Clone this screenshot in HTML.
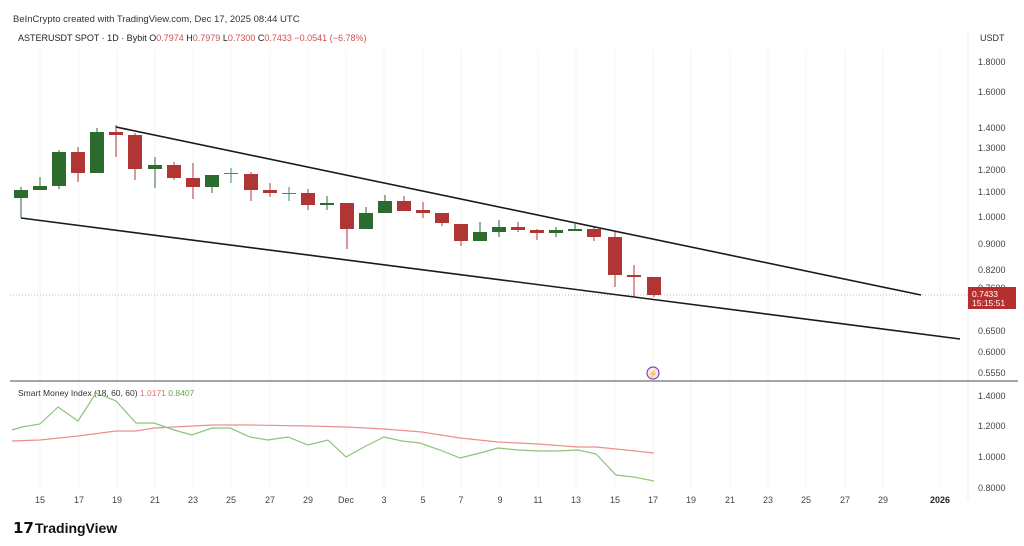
<!DOCTYPE html>
<html><head><meta charset="utf-8"><style>
body{margin:0;background:#fff;width:1024px;height:541px;overflow:hidden;font-family:"Liberation Sans",sans-serif}
</style></head><body>
<svg width="1024" height="541" xmlns="http://www.w3.org/2000/svg" font-family="Liberation Sans, sans-serif">
<rect width="1024" height="541" fill="#fff"/>
<text x="13" y="22" font-size="9.5" fill="#333">BeInCrypto created with TradingView.com, Dec 17, 2025 08:44 UTC</text>
<text x="18" y="41" font-size="9" fill="#222">ASTERUSDT SPOT · 1D · Bybit  <tspan fill="#222">O</tspan><tspan fill="#d05050">0.7974</tspan>  <tspan fill="#222">H</tspan><tspan fill="#d05050">0.7979</tspan>  <tspan fill="#222">L</tspan><tspan fill="#d05050">0.7300</tspan>  <tspan fill="#222">C</tspan><tspan fill="#d05050">0.7433  −0.0541 (−6.78%)</tspan></text>
<line x1="968" y1="30" x2="968" y2="500" stroke="#eee"/>
<g stroke="#f6f6f6" stroke-width="1">
<line x1="40" y1="50" x2="40" y2="490"/><line x1="79" y1="50" x2="79" y2="490"/><line x1="117" y1="50" x2="117" y2="490"/><line x1="155" y1="50" x2="155" y2="490"/><line x1="193" y1="50" x2="193" y2="490"/><line x1="231" y1="50" x2="231" y2="490"/><line x1="270" y1="50" x2="270" y2="490"/><line x1="308" y1="50" x2="308" y2="490"/><line x1="346" y1="50" x2="346" y2="490"/><line x1="384" y1="50" x2="384" y2="490"/><line x1="423" y1="50" x2="423" y2="490"/><line x1="461" y1="50" x2="461" y2="490"/><line x1="500" y1="50" x2="500" y2="490"/><line x1="538" y1="50" x2="538" y2="490"/><line x1="576" y1="50" x2="576" y2="490"/><line x1="615" y1="50" x2="615" y2="490"/><line x1="653" y1="50" x2="653" y2="490"/><line x1="691" y1="50" x2="691" y2="490"/><line x1="730" y1="50" x2="730" y2="490"/><line x1="768" y1="50" x2="768" y2="490"/><line x1="806" y1="50" x2="806" y2="490"/><line x1="845" y1="50" x2="845" y2="490"/><line x1="883" y1="50" x2="883" y2="490"/><line x1="940" y1="50" x2="940" y2="490"/>
</g>
<text x="980" y="41" font-size="9" fill="#333">USDT</text>
<g font-size="9" fill="#444">
<text x="978" y="65">1.8000</text><text x="978" y="95">1.6000</text><text x="978" y="131">1.4000</text><text x="978" y="151">1.3000</text><text x="978" y="173">1.2000</text><text x="978" y="195">1.1000</text><text x="978" y="220">1.0000</text><text x="978" y="247">0.9000</text><text x="978" y="273">0.8200</text><text x="978" y="291">0.7600</text><text x="978" y="309">0.7000</text><text x="978" y="334">0.6500</text><text x="978" y="355">0.6000</text><text x="978" y="376">0.5550</text>
<text x="978" y="399">1.4000</text><text x="978" y="429">1.2000</text><text x="978" y="460">1.0000</text><text x="978" y="491">0.8000</text>
</g>
<line x1="10" y1="295" x2="968" y2="295" stroke="#d9b0b0" stroke-dasharray="1,2"/>
<rect x="968" y="287" width="48" height="22" fill="#b52f2f"/>
<text x="972" y="297" font-size="8.5" fill="#fff">0.7433</text>
<text x="972" y="306" font-size="8.5" fill="#fff">15:15:51</text>
<g>
<line x1="21" y1="187" x2="21" y2="218" stroke="#2d6a2d"/><rect x="14" y="190" width="14" height="8" fill="#2d6a2d"/>
<line x1="40" y1="177" x2="40" y2="190" stroke="#2d6a2d"/><rect x="33" y="186" width="14" height="4" fill="#2d6a2d"/>
<line x1="59" y1="150" x2="59" y2="189" stroke="#2d6a2d"/><rect x="52" y="152" width="14" height="34" fill="#2d6a2d"/>
<line x1="78" y1="147" x2="78" y2="182" stroke="#b03535"/><rect x="71" y="152" width="14" height="21" fill="#b03535"/>
<line x1="97" y1="128" x2="97" y2="173" stroke="#2d6a2d"/><rect x="90" y="132" width="14" height="41" fill="#2d6a2d"/>
<line x1="116" y1="125" x2="116" y2="157" stroke="#b03535"/><rect x="109" y="132" width="14" height="3" fill="#b03535"/>
<line x1="135" y1="133" x2="135" y2="180" stroke="#b03535"/><rect x="128" y="135" width="14" height="34" fill="#b03535"/>
<line x1="155" y1="157" x2="155" y2="188" stroke="#2d6a2d"/><rect x="148" y="165" width="14" height="4" fill="#2d6a2d"/>
<line x1="174" y1="162" x2="174" y2="180" stroke="#b03535"/><rect x="167" y="165" width="14" height="13" fill="#b03535"/>
<line x1="193" y1="163" x2="193" y2="199" stroke="#b03535"/><rect x="186" y="178" width="14" height="9" fill="#b03535"/>
<line x1="212" y1="175" x2="212" y2="193" stroke="#2d6a2d"/><rect x="205" y="175" width="14" height="12" fill="#2d6a2d"/>
<line x1="231" y1="168" x2="231" y2="183" stroke="#3b8a6a"/><rect x="224" y="173" width="14" height="1" fill="#3b8a6a"/>
<line x1="251" y1="172" x2="251" y2="201" stroke="#b03535"/><rect x="244" y="174" width="14" height="16" fill="#b03535"/>
<line x1="270" y1="183" x2="270" y2="197" stroke="#b03535"/><rect x="263" y="190" width="14" height="3" fill="#b03535"/>
<line x1="289" y1="187" x2="289" y2="201" stroke="#3b8a6a"/><rect x="282" y="193" width="14" height="1" fill="#3b8a6a"/>
<line x1="308" y1="189" x2="308" y2="210" stroke="#b03535"/><rect x="301" y="193" width="14" height="12" fill="#b03535"/>
<line x1="327" y1="196" x2="327" y2="210" stroke="#2d6a2d"/><rect x="320" y="203" width="14" height="2" fill="#2d6a2d"/>
<line x1="347" y1="203" x2="347" y2="249" stroke="#b03535"/><rect x="340" y="203" width="14" height="26" fill="#b03535"/>
<line x1="366" y1="207" x2="366" y2="229" stroke="#2d6a2d"/><rect x="359" y="213" width="14" height="16" fill="#2d6a2d"/>
<line x1="385" y1="195" x2="385" y2="213" stroke="#2d6a2d"/><rect x="378" y="201" width="14" height="12" fill="#2d6a2d"/>
<line x1="404" y1="196" x2="404" y2="211" stroke="#b03535"/><rect x="397" y="201" width="14" height="10" fill="#b03535"/>
<line x1="423" y1="202" x2="423" y2="218" stroke="#b03535"/><rect x="416" y="210" width="14" height="3" fill="#b03535"/>
<line x1="442" y1="213" x2="442" y2="226" stroke="#b03535"/><rect x="435" y="213" width="14" height="10" fill="#b03535"/>
<line x1="461" y1="224" x2="461" y2="246" stroke="#b03535"/><rect x="454" y="224" width="14" height="17" fill="#b03535"/>
<line x1="480" y1="222" x2="480" y2="241" stroke="#2d6a2d"/><rect x="473" y="232" width="14" height="9" fill="#2d6a2d"/>
<line x1="499" y1="220" x2="499" y2="237" stroke="#2d6a2d"/><rect x="492" y="227" width="14" height="5" fill="#2d6a2d"/>
<line x1="518" y1="222" x2="518" y2="232" stroke="#b03535"/><rect x="511" y="227" width="14" height="3" fill="#b03535"/>
<line x1="537" y1="229" x2="537" y2="240" stroke="#b03535"/><rect x="530" y="230" width="14" height="3" fill="#b03535"/>
<line x1="556" y1="227" x2="556" y2="237" stroke="#2d6a2d"/><rect x="549" y="230" width="14" height="3" fill="#2d6a2d"/>
<line x1="575" y1="224" x2="575" y2="231" stroke="#2d6a2d"/><rect x="568" y="229" width="14" height="2" fill="#2d6a2d"/>
<line x1="594" y1="227" x2="594" y2="241" stroke="#b03535"/><rect x="587" y="229" width="14" height="8" fill="#b03535"/>
<line x1="615" y1="232" x2="615" y2="287" stroke="#b03535"/><rect x="608" y="237" width="14" height="38" fill="#b03535"/>
<line x1="634" y1="265" x2="634" y2="297" stroke="#b03535"/><rect x="627" y="275" width="14" height="2" fill="#b03535"/>
<line x1="654" y1="277" x2="654" y2="297" stroke="#b03535"/><rect x="647" y="277" width="14" height="18" fill="#b03535"/>
</g>
<line x1="116" y1="127" x2="921" y2="295" stroke="#1a1a1a" stroke-width="1.6"/>
<line x1="21" y1="218" x2="960" y2="339" stroke="#1a1a1a" stroke-width="1.6"/>
<circle cx="653" cy="373" r="6" fill="#f3e8f8" stroke="#8a3fb0" stroke-width="1.2"/>
<text x="653" y="376.5" font-size="8" fill="#8a3fb0" text-anchor="middle">⚡</text>
<line x1="10" y1="381" x2="1018" y2="381" stroke="#888" stroke-width="1.5"/>
<text x="18" y="396" font-size="8.5" fill="#333">Smart Money Index (18, 60, 60)  <tspan fill="#e07070">1.0171</tspan>  <tspan fill="#6aa84f">0.8407</tspan></text>
<polyline fill="none" stroke="#e89090" stroke-width="1.2" points="12,441 40,440 78,436 116,431 136,431 154,428 174,427 212,425 250,425 308,426 346,427 384,429 422,432 460,438 498,442 538,444 578,447 596,447 616,449 654,453"/>
<polyline fill="none" stroke="#8cc47a" stroke-width="1.2" points="12,430 22,427 40,424 58,407 78,421 96,393 116,401 136,423 154,423 174,430 192,435 212,428 230,428 250,437 268,440 288,437 308,445 328,440 346,457 364,447 384,437 402,441 420,443 440,450 460,458 480,453 498,448 518,450 538,451 558,451 578,450 596,454 616,475 634,477 654,481"/>
<g font-size="9" fill="#444" text-anchor="middle">
<text x="40" y="503">15</text><text x="79" y="503">17</text><text x="117" y="503">19</text><text x="155" y="503">21</text><text x="193" y="503">23</text><text x="231" y="503">25</text><text x="270" y="503">27</text><text x="308" y="503">29</text><text x="346" y="503">Dec</text><text x="384" y="503">3</text><text x="423" y="503">5</text><text x="461" y="503">7</text><text x="500" y="503">9</text><text x="538" y="503">11</text><text x="576" y="503">13</text><text x="615" y="503">15</text><text x="653" y="503">17</text><text x="691" y="503">19</text><text x="730" y="503">21</text><text x="768" y="503">23</text><text x="806" y="503">25</text><text x="845" y="503">27</text><text x="883" y="503">29</text><text x="940" y="503" font-weight="bold" fill="#222">2026</text>
</g>
<text x="13" y="533" font-size="15" font-weight="bold" fill="#111">𝟭𝟳</text>
<text x="35" y="533" font-size="14" font-weight="bold" fill="#111">TradingView</text>
</svg>
</body></html>
